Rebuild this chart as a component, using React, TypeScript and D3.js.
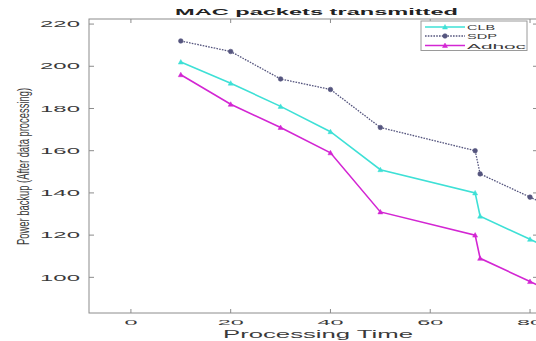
import React from "react";
import * as d3 from "d3";

const xValues = [10, 20, 30, 40, 50, 69, 70, 80, 90];
const clb = [202, 192, 181, 169, 151, 140, 129, 118, 107];
const sdp = [212, 207, 194, 189, 171, 160, 149, 138, 127];
const adhoc = [196, 182, 171, 159, 131, 120, 109, 98, 87];
const xTicks = [0, 20, 40, 60, 80];
const yTicks = [100, 120, 140, 160, 180, 200, 220];
const seriesNames = ["CLB", "SDP", "Adhoc"];
const title = "MAC packets transmitted";
const xLabel = "Processing Time";
const yLabel = "Power backup (After data processing)";

const W = 536;
const H = 341;
const FONT = "Liberation Sans, Arial, sans-serif";

const x = d3.scaleLinear().domain([-8.4, 81.6]).range([89, 538]);
const y = d3.scaleLinear().domain([83.1, 222.4]).range([313, 19]);

const series = [
  { name: seriesNames[0], values: clb, color: "#3ee0d6", dash: "", width: 1.6, marker: "triangle" },
  { name: seriesNames[1], values: sdp, color: "#55557e", dash: "1.6,1.2", width: 1.3, marker: "circle" },
  { name: seriesNames[2], values: adhoc, color: "#d326d3", dash: "", width: 1.6, marker: "triangle" },
];

const line = d3
  .line<[number, number]>()
  .x((d) => x(d[0]))
  .y((d) => y(d[1]));

function Marker({ cx, cy, type, color }: { cx: number; cy: number; type: string; color: string }) {
  if (type === "circle") {
    return <circle cx={cx} cy={cy} r={2.3} fill={color} stroke={color} strokeWidth={0.6} />;
  }
  const s = 2.5;
  return (
    <path
      d={`M${cx},${cy - s} L${cx + s},${cy + s * 0.8} L${cx - s},${cy + s * 0.8} Z`}
      fill={color}
      stroke={color}
      strokeWidth={0.5}
    />
  );
}

export default function App() {
  const [x0, x1] = x.range();
  const [y0, y1] = y.range();
  const axisColor = "#8c8c8c";
  const textColor = "#3a3a3a";
  const legendY = [27, 36, 45.5];
  return (
    <svg
      width={W}
      height={H}
      style={{ position: "absolute", left: 0, top: 0, background: "#fff" }}
      fontFamily={FONT}
    >
      <rect x={0} y={0} width={W} height={H} fill="#fff" />
      <rect x={x0} y={y1} width={x1 - x0} height={y0 - y1} fill="none" stroke={axisColor} strokeWidth={1} />
      {xTicks.map((t) => (
        <g key={"xt" + t}>
          <line x1={x(t)} x2={x(t)} y1={y0} y2={y0 - 4} stroke={axisColor} />
          <line x1={x(t)} x2={x(t)} y1={y1} y2={y1 + 4} stroke={axisColor} />
          <text
            x={x(t)}
            y={325}
            fontSize={8}
            textAnchor="middle"
            fill={textColor}
            textLength={13 * String(t).length}
            lengthAdjust="spacingAndGlyphs"
          >
            {t}
          </text>
        </g>
      ))}
      {yTicks.map((t) => (
        <g key={"yt" + t}>
          <line x1={x0} x2={x0 + 5} y1={y(t)} y2={y(t)} stroke={axisColor} />
          <line x1={x1} x2={x1 - 5} y1={y(t)} y2={y(t)} stroke={axisColor} />
          <text
            x={80}
            y={y(t) + 3.2}
            fontSize={9}
            textAnchor="end"
            fill={textColor}
            textLength={13.3 * String(t).length}
            lengthAdjust="spacingAndGlyphs"
          >
            {t}
          </text>
        </g>
      ))}
      {series.map((s) => {
        const pts: [number, number][] = xValues.map((xv, i) => [xv, s.values[i]]);
        return (
          <g key={s.name}>
            <path
              d={line(pts) || ""}
              fill="none"
              stroke={s.color}
              strokeWidth={s.width}
              strokeDasharray={s.dash || undefined}
            />
            {pts.map((p, i) => (
              <Marker key={i} cx={x(p[0])} cy={y(p[1])} type={s.marker} color={s.color} />
            ))}
          </g>
        );
      })}
      <text
        x={175}
        y={15}
        fontSize={8.8}
        fill="#222"
        fontWeight="bold"
        textLength={283}
        lengthAdjust="spacingAndGlyphs"
      >
        {title}
      </text>
      <text
        x={223}
        y={337.5}
        fontSize={11.5}
        fill={textColor}
        textLength={190}
        lengthAdjust="spacingAndGlyphs"
      >
        {xLabel}
      </text>
      <g transform="translate(29,166.5) rotate(-90) scale(1,1.7)">
        <text
          x={0}
          y={0}
          fontSize={9.5}
          textAnchor="middle"
          fill={textColor}
          textLength={157}
          lengthAdjust="spacingAndGlyphs"
        >
          {yLabel}
        </text>
      </g>
      <rect x={421} y={21} width={106} height={29.5} fill="#fff" stroke="#9a9a9a" strokeWidth={1} />
      {series.map((s, i) => (
        <g key={"lg" + s.name}>
          <line
            x1={425}
            x2={465}
            y1={legendY[i]}
            y2={legendY[i]}
            stroke={s.color}
            strokeWidth={s.width}
            strokeDasharray={s.dash || undefined}
          />
          <Marker cx={445} cy={legendY[i]} type={s.marker} color={s.color} />
          <text
            x={467}
            y={legendY[i] + 3}
            fontSize={8}
            fill={textColor}
            textLength={[28, 30, 59][i]}
            lengthAdjust="spacingAndGlyphs"
          >
            {s.name}
          </text>
        </g>
      ))}
    </svg>
  );
}
